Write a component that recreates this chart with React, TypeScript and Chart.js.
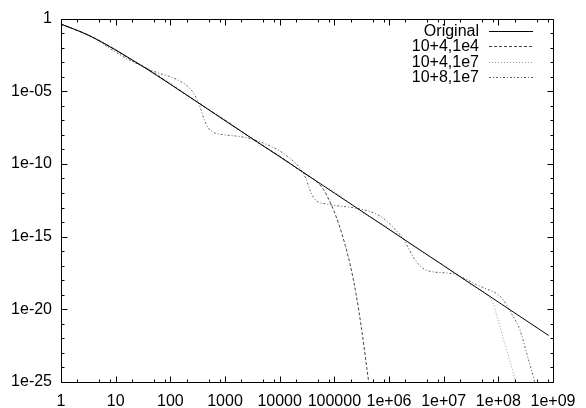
import React, { useEffect, useRef } from 'react';
import { Chart, registerables } from 'chart.js';

Chart.register(...registerables);

// ---- data (log10 values) ----
const originalLogX = [0, 0.25, 0.5, 0.75, 1.0, 1.25, 1.5, 2.0, 2.5, 3.0, 4.0, 5.0, 6.0, 7.0, 8.0, 8.92];
const originalLogY = [-0.38, -0.74, -1.14, -1.62, -2.15, -2.72, -3.3, -4.52, -5.76, -7.02, -9.5, -12.0, -14.5, -17.0, -19.5, -21.8];

const cut1e4LogX = [0, 0.5, 1.0, 1.3, 1.6, 2.0, 2.4, 2.8, 3.2, 3.6, 4.0, 4.4, 4.6, 4.7, 4.8, 4.9, 5.0, 5.1, 5.2, 5.3, 5.4, 5.5, 5.6, 5.7];
const cut1e4LogY = [-0.38, -1.14, -2.17, -2.88, -3.5, -4.5, -5.5, -6.5, -7.5, -8.52, -9.48, -10.5, -11.0, -11.3, -11.75, -12.45, -13.3, -14.35, -15.6, -17.1, -19.0, -21.4, -24.2, -27.0];

const four1e7LogX = [0, 0.5, 1.0, 1.5, 2.0, 2.5, 3.0, 3.5, 4.0, 4.5, 5.0, 5.5, 6.0, 6.5, 7.0, 7.5, 7.6, 7.72, 7.82, 7.9, 7.97, 8.09, 8.21, 8.3, 8.36];
const four1e7LogY = [-0.38, -1.14, -2.2, -3.25, -4.45, -5.8, -6.95, -8.3, -9.45, -10.8, -11.92, -13.3, -14.42, -15.8, -16.95, -18.3, -18.5, -18.78, -19.1, -19.55, -20.4, -22.0, -23.5, -24.8, -26.0];

const eight1e7LogX = [0, 0.5, 0.7, 0.85, 1.0, 1.2, 1.4, 1.55, 1.7, 1.85, 2.0, 2.15, 2.3, 2.4, 2.48, 2.55, 2.62, 2.7, 2.8, 3.0, 3.2, 3.4, 3.6, 3.8, 4.0, 4.15, 4.3, 4.4, 4.48, 4.55, 4.62, 4.7, 4.85, 5.1, 5.3, 5.47, 5.71, 5.9, 6.02, 6.14, 6.26, 6.35, 6.45, 6.55, 6.65, 6.8, 7.05, 7.24, 7.42, 7.6, 7.72, 7.85, 7.97, 8.1, 8.21, 8.31, 8.4, 8.52, 8.64, 8.7];
const eight1e7LogY = [-0.38, -1.14, -1.55, -1.95, -2.3, -2.75, -3.12, -3.4, -3.63, -3.82, -4.0, -4.25, -4.6, -5.0, -5.5, -6.15, -6.95, -7.55, -7.85, -8.0, -8.08, -8.2, -8.42, -8.72, -9.1, -9.5, -9.98, -10.45, -11.0, -11.75, -12.3, -12.6, -12.75, -12.9, -12.98, -13.1, -13.35, -13.75, -14.15, -14.62, -15.15, -15.75, -16.45, -16.95, -17.25, -17.42, -17.5, -17.62, -17.95, -18.3, -18.5, -18.7, -18.92, -19.4, -20.1, -20.75, -21.46, -23.05, -24.64, -25.6];

const seriesNames = ['Original', '10+4,1e4', '10+4,1e7', '10+8,1e7'];

const xTickValues = [1, 10, 100, 1e3, 1e4, 1e5, 1e6, 1e7, 1e8, 1e9];
const xTickLabels = ['1', '10', '100', '1000', '10000', '100000', '1e+06', '1e+07', '1e+08', '1e+09'];
const yTickValues = [1e-25, 1e-20, 1e-15, 1e-10, 1e-5, 1];
const yTickLabels = ['1e-25', '1e-20', '1e-15', '1e-10', '1e-05', '1'];
const xMinorFactors = [2, 5, 8];

const FONT = { family: '"Liberation Sans", Arial, sans-serif', size: 16 };

function toPoints(lx: number[], ly: number[]) {
  return lx.map((v, i) => ({ x: Math.pow(10, v), y: Math.pow(10, ly[i]) }));
}

const framePlugin = {
  id: 'gnuplotFrame',
  afterDatasetsDraw(chart: any) {
    const { ctx, chartArea: a, scales } = chart;
    const xs = scales.x, ys = scales.y;
    ctx.save();
    ctx.strokeStyle = '#000';
    ctx.lineWidth = 1;
    ctx.beginPath();
    const r = (v: number) => Math.round(v) + 0.5;
    const L = r(a.left), R = r(a.right), T = r(a.top), B = r(a.bottom);
    ctx.rect(L, T, R - L, B - T);
    const vtick = (v: number, len: number) => {
      const px = r(xs.getPixelForValue(v));
      ctx.moveTo(px, B); ctx.lineTo(px, B - len);
      ctx.moveTo(px, T); ctx.lineTo(px, T + len);
    };
    const htick = (v: number, len: number) => {
      const py = r(ys.getPixelForValue(v));
      ctx.moveTo(L, py); ctx.lineTo(L + len, py);
      ctx.moveTo(R, py); ctx.lineTo(R - len, py);
    };
    xTickValues.forEach((d, i) => {
      vtick(d, 6);
      if (i < xTickValues.length - 1) xMinorFactors.forEach((f) => vtick(d * f, 3));
    });
    for (let k = 0; k <= 25; k++) htick(Math.pow(10, -k), k % 5 === 0 ? 6 : 3);
    ctx.stroke();

    // legend (gnuplot style: right-aligned text, sample line on the right)
    ctx.font = `${FONT.size}px ${FONT.family}`;
    ctx.textAlign = 'right';
    ctx.textBaseline = 'middle';
    ctx.fillStyle = '#000';
    chart.data.datasets.forEach((ds: any, i: number) => {
      const y = 31 + i * 15.4;
      ctx.fillText(ds.label, 479, y + 0.5);
      ctx.beginPath();
      ctx.strokeStyle = ds.borderColor;
      ctx.setLineDash(ds.borderDash || []);
      ctx.moveTo(489, Math.round(y) + 0.5);
      ctx.lineTo(533, Math.round(y) + 0.5);
      ctx.stroke();
    });
    ctx.restore();
  },
};

export default function App() {
  const ref = useRef<HTMLCanvasElement>(null);
  useEffect(() => {
    const chart = new Chart(ref.current as HTMLCanvasElement, {
      type: 'line',
      data: {
        datasets: [
          { label: seriesNames[0], data: toPoints(originalLogX, originalLogY), borderColor: '#000000', borderWidth: 1 },
          { label: seriesNames[1], data: toPoints(cut1e4LogX, cut1e4LogY), borderColor: '#444444', borderWidth: 1, borderDash: [3, 2] },
          { label: seriesNames[2], data: toPoints(four1e7LogX, four1e7LogY), borderColor: '#9a9a9a', borderWidth: 1, borderDash: [1, 2] },
          { label: seriesNames[3], data: toPoints(eight1e7LogX, eight1e7LogY), borderColor: '#606060', borderWidth: 1, borderDash: [2, 2, 1, 2] },
        ],
      },
      options: {
        animation: false,
        responsive: false,
        events: [],
        layout: { padding: { left: 0, right: 33, top: 15, bottom: 0 } },
        elements: {
          point: { radius: 0 },
          line: { cubicInterpolationMode: 'monotone', fill: false },
        },
        plugins: { legend: { display: false }, tooltip: { enabled: false } },
        scales: {
          x: {
            type: 'logarithmic',
            min: 1,
            max: 1e9,
            position: 'bottom',
            afterBuildTicks: (s: any) => { s.ticks = xTickValues.map((v) => ({ value: v })); },
            afterFit: (s: any) => { s.height = 26; },
            ticks: {
              callback: (_v: any, i: number) => xTickLabels[i],
              font: FONT,
              color: '#000',
              padding: 10,
              maxRotation: 0,
              autoSkip: false,
            },
            grid: { display: false, drawTicks: false },
            border: { display: false },
          },
          y: {
            type: 'logarithmic',
            min: 1e-25,
            max: 1,
            afterBuildTicks: (s: any) => { s.ticks = yTickValues.map((v) => ({ value: v })); },
            afterFit: (s: any) => { s.width = 61; },
            ticks: {
              callback: (_v: any, i: number) => yTickLabels[i],
              font: FONT,
              color: '#000',
              padding: 9,
              autoSkip: false,
            },
            grid: { display: false, drawTicks: false },
            border: { display: false },
          },
        },
      },
      plugins: [framePlugin],
    } as any);
    return () => chart.destroy();
  }, []);
  return (
    <div style={{ position: 'fixed', left: 0, top: 0, width: 586, height: 408, background: '#fff' }}>
      <canvas ref={ref} width={586} height={408} style={{ display: 'block', width: 586, height: 408 }} />
    </div>
  );
}
